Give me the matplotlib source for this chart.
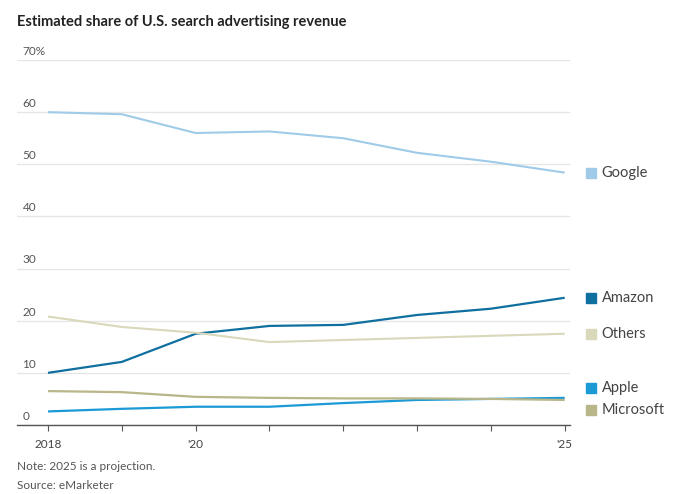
import numpy as np
import matplotlib.pyplot as plt
import matplotlib.transforms as mtransforms

plt.rcParams['font.family'] = ['Lato', 'DejaVu Sans']

years = [2018, 2019, 2020, 2021, 2022, 2023, 2024, 2025]
google = [60.0, 59.6, 56.0, 56.3, 55.0, 52.2, 50.5, 48.4]
amazon = [10.0, 12.1, 17.5, 19.0, 19.2, 21.1, 22.3, 24.4]
others = [20.8, 18.8, 17.7, 15.9, 16.3, 16.7, 17.1, 17.5]
apple = [2.6, 3.1, 3.5, 3.5, 4.2, 4.8, 5.0, 5.2]
microsoft = [6.5, 6.3, 5.4, 5.2, 5.1, 5.1, 5.0, 4.8]

names = ['Google', 'Amazon', 'Others', 'Apple', 'Microsoft']
series = [google, amazon, others, apple, microsoft]
colors = ['#9fcbe8', '#0f6f9f', '#d9d8bb', '#1b9ad6', '#b9b68a']
widths = [1.5, 1.6, 1.5, 1.6, 1.6]

fig = plt.figure(figsize=(6.8, 4.94), dpi=100)
ax = fig.add_axes([0.025, 0.1397, 0.813, 0.7388])

for s, c, w in zip(series, colors, widths):
    ax.plot(years, s, color=c, lw=w, solid_capstyle='butt', zorder=3)

ax.set_xlim(2017.58, 2025.07)
ax.set_ylim(0, 70)
ax.set_yticks(range(0, 80, 10))
ax.set_yticklabels([])
ax.grid(axis='y', color='#e6e6e6', lw=1)
ax.set_axisbelow(True)
for sp in ['top', 'right', 'left']:
    ax.spines[sp].set_visible(False)
ax.spines['bottom'].set_color('#555555')
ax.spines['bottom'].set_linewidth(1)
ax.tick_params(axis='y', length=0)
ax.set_xticks(years)
ax.set_xticklabels(['2018', '', "'20", '', '', '', '', "'25"])
ax.tick_params(axis='x', length=4, color='#555555', labelsize=8.5,
               labelcolor='#444444', pad=6)

# y labels sit above the gridlines at the left edge
for v in range(0, 80, 10):
    lab = '70%' if v == 70 else str(v)
    ax.text(0.01, v + 0.6, lab, transform=ax.get_yaxis_transform(),
            fontsize=8.5, color='#555555', ha='left', va='bottom')

# end labels, spread apart where they collide
ends = np.array([s[-1] for s in series])
pos = ends.copy()
gap = 4.2
order = np.argsort(-ends)
for _ in range(20):
    for a, b in zip(order[:-1], order[1:]):
        if pos[a] - pos[b] < gap:
            m = (pos[a] + pos[b]) / 2
            pos[a] = m + gap / 2
            pos[b] = m - gap / 2

blend = mtransforms.blended_transform_factory(ax.transAxes, ax.transData)
sq_tr = mtransforms.offset_copy(blend, fig=fig, x=15, y=0, units='points')
for n, c, p in zip(names, colors, pos):
    ax.plot([1], [p], marker='s', ms=6.5, color=c, transform=sq_tr,
            clip_on=False, ls='none')
    ax.annotate(n, xy=(1, p), xycoords=('axes fraction', 'data'),
                xytext=(23, 0), textcoords='offset points', color='#444444',
                fontsize=10.5, va='center', ha='left', annotation_clip=False)

fig.text(0.025, 0.955, 'Estimated share of U.S. search advertising revenue',
         fontsize=10.5, fontweight='bold', color='#222222', ha='left', va='center')
fig.text(0.025, 0.055, 'Note: 2025 is a projection.', fontsize=8.5,
         color='#555555', ha='left', va='center')
fig.text(0.025, 0.018, 'Source: eMarketer', fontsize=8.5,
         color='#555555', ha='left', va='center')

fig.savefig('out.png', dpi=100)
